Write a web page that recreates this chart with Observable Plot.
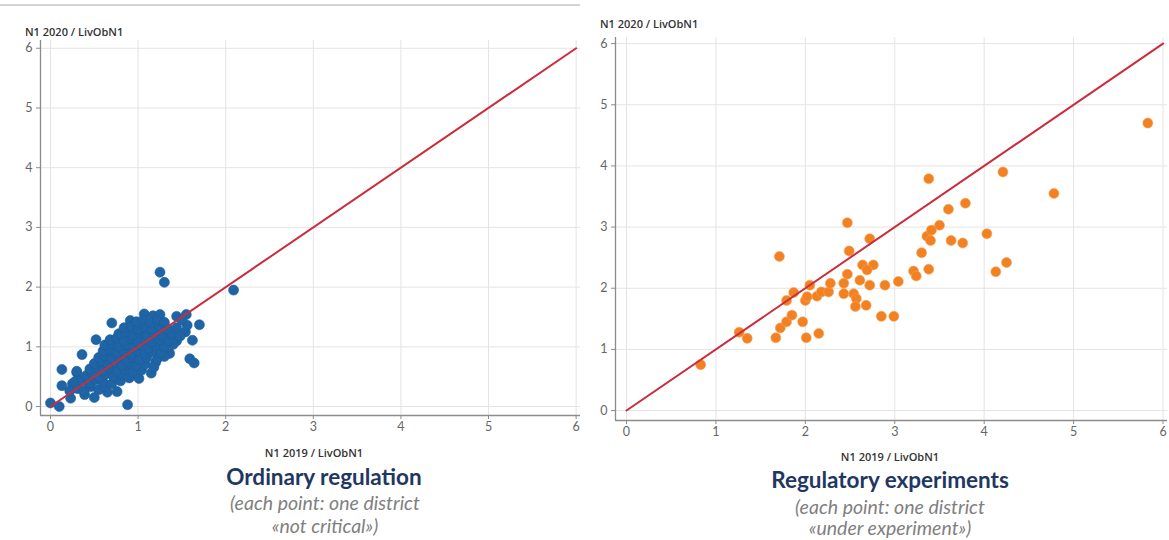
<!DOCTYPE html>
<html>
<head>
<meta charset="utf-8">
<script src="https://cdn.jsdelivr.net/npm/d3@7"></script>
<script src="https://cdn.jsdelivr.net/npm/@observablehq/plot@0.6"></script>
<style>
  html, body { margin: 0; padding: 0; background: #fff; }
  #wrap { position: relative; width: 1169px; height: 540px; overflow: hidden; font-family: Lato, "Open Sans", sans-serif; }
  .panel { position: absolute; top: 0; }
  .ytitle, .xtitle { position: absolute; font-family: "Open Sans", sans-serif; font-size: 11px; font-weight: 600; color: #333; white-space: nowrap; line-height: 14px; }
  .xtitle { transform: translateX(-50%); }
  .title { position: absolute; transform: translateX(-50%); font-family: Lato, sans-serif; font-weight: 700; font-size: 22.5px; color: #1f3763; white-space: nowrap; line-height: 26px; }
  .sub { position: absolute; transform: translateX(-50%); font-family: Lato, sans-serif; font-style: italic; font-size: 19.5px; color: #7f7f7f; white-space: nowrap; line-height: 22px; text-align: center; }
  #topline { position: absolute; left: 0; top: 4px; width: 580px; height: 2px; background: #d4d4d4; }
</style>
</head>
<body>
<div id="wrap">
  <div id="topline"></div>
  <div id="left" class="panel" style="left:0px"></div>
  <div id="right" class="panel" style="left:580px"></div>
</div>
<script>
// ---------- data ----------
const ticks = [0, 1, 2, 3, 4, 5, 6];
const diagonal = [0, 6];

const yTitle = "N1 2020 / LivObN1";
const xTitle = "N1 2019 / LivObN1";
const leftTitle = "Ordinary regulation";
const leftSub = ["(each point: one district", "«not critical»)"];
const rightTitle = "Regulatory experiments";
const rightSub = ["(each point: one district", "«under experiment»)"];

// Ordinary regulation (districts "not critical")
const ordinaryX = [
  0.00,0.10,0.23,0.13,0.13,0.30,0.36,0.52,0.70,0.91,1.25,1.30,2.09,1.70,0.39,0.50,0.65,0.76,0.88,1.62,1.59,1.64,1.54,1.44,1.36,1.20,1.01,1.15,1.07,1.17,1.25,1.44,1.55,1.56,0.25,0.30,
  0.22,0.31,0.38,0.46,0.55,0.62,
  0.28,0.36,0.44,0.52,0.60,0.70,0.80,
  0.41,0.48,0.56,0.63,0.72,0.81,0.90,
  0.45,0.52,0.60,0.68,0.76,0.85,0.94,1.04,
  0.50,0.58,0.66,0.74,0.82,0.90,0.98,1.08,1.18,
  0.55,0.62,0.70,0.78,0.86,0.94,1.02,1.10,1.22,1.30,
  0.60,0.68,0.76,0.84,0.92,1.00,1.08,1.16,1.26,
  0.62,0.70,0.78,0.86,0.95,1.03,1.12,1.20,1.30,1.40,
  0.68,0.76,0.84,0.92,1.00,1.08,1.16,1.25,1.35,
  0.78,0.86,0.94,1.02,1.10,1.18,1.28,1.38,1.48,
  0.84,0.92,1.00,1.08,1.16,1.24,1.34,1.44,
  0.98,1.06,1.14,1.22,1.30,1.50
];
const ordinaryY = [
  0.06,0.00,0.14,0.35,0.62,0.57,0.87,1.12,1.40,1.44,2.25,2.08,1.95,1.37,0.20,0.15,0.24,0.25,0.03,1.11,0.80,0.73,1.25,1.10,0.89,0.74,0.47,0.56,1.55,1.52,1.54,1.51,1.54,1.36,0.38,0.59,
  0.26,0.30,0.27,0.33,0.28,0.34,
  0.42,0.44,0.39,0.45,0.41,0.38,0.43,
  0.52,0.55,0.49,0.54,0.50,0.53,0.48,
  0.63,0.66,0.60,0.64,0.59,0.62,0.58,0.61,
  0.72,0.75,0.70,0.74,0.69,0.73,0.68,0.71,0.66,
  0.82,0.85,0.80,0.84,0.79,0.83,0.78,0.82,0.80,0.84,
  0.93,0.95,0.90,0.94,0.89,0.93,0.88,0.92,0.90,
  1.03,1.05,1.00,1.04,0.99,1.03,0.98,1.02,1.00,1.04,
  1.12,1.15,1.10,1.14,1.09,1.13,1.08,1.12,1.10,
  1.22,1.25,1.20,1.24,1.19,1.23,1.20,1.22,1.18,
  1.32,1.34,1.29,1.33,1.30,1.34,1.30,1.32,
  1.42,1.45,1.40,1.44,1.41,1.45
];

// Regulatory experiments (districts "under experiment")
const experimentX = [
  0.83,1.26,1.35,1.67,1.72,1.79,1.85,1.97,2.01,2.15,1.79,1.87,2.00,2.02,2.05,2.13,2.18,2.26,2.28,2.43,
  2.43,2.54,2.57,2.56,2.68,2.61,2.72,2.85,2.99,2.89,3.04,2.47,2.64,2.76,2.69,2.49,2.72,2.47,1.71,3.21,
  3.24,3.38,3.30,3.36,3.40,3.41,3.50,3.60,3.79,3.63,3.76,4.03,4.13,4.25,3.38,4.21,4.78,5.83
];
const experimentY = [
  0.75,1.28,1.18,1.19,1.35,1.45,1.56,1.45,1.19,1.26,1.80,1.93,1.80,1.86,2.05,1.87,1.94,1.94,2.08,2.08,
  1.91,1.91,1.83,1.70,1.72,2.13,2.05,1.54,1.54,2.05,2.11,2.23,2.38,2.38,2.30,2.61,2.81,3.07,2.52,2.28,
  2.20,2.31,2.58,2.85,2.78,2.95,3.03,3.29,3.39,2.78,2.74,2.89,2.27,2.42,3.79,3.90,3.55,4.70
];

const ordinary = ordinaryX.map((x, i) => ({x, y: ordinaryY[i]}));
const experiment = experimentX.map((x, i) => ({x, y: experimentY[i]}));

// ---------- chart builder ----------
function panel({data, color, stroke, width, height, mL, mR, mT, mB, xDom, yDom}) {
  return Plot.plot({
    width, height,
    marginLeft: mL, marginRight: mR, marginTop: mT, marginBottom: mB,
    x: {domain: xDom, label: null},
    y: {domain: yDom, label: null},
    style: {fontFamily: "Lato, 'Open Sans', sans-serif", fontSize: "12.5px", color: "#666", background: "transparent", overflow: "visible"},
    marks: [
      Plot.gridX(ticks, {stroke: "#e4e4e4", strokeOpacity: 1}),
      Plot.gridY(ticks, {stroke: "#e4e4e4", strokeOpacity: 1}),
      Plot.ruleX([xDom[0]], {stroke: "#8c8c8c", strokeWidth: 1.3}),
      Plot.ruleY([yDom[0]], {stroke: "#8c8c8c", strokeWidth: 1.3}),
      Plot.axisX(ticks, {tickSize: 4, tickPadding: 3, label: null, stroke: "#8c8c8c", fill: "#666", tickFormat: d3.format("d")}),
      Plot.axisY(ticks, {tickSize: 4, tickPadding: 4, label: null, stroke: "#8c8c8c", fill: "#666", tickFormat: d3.format("d")}),
      Plot.dot(data, {x: "x", y: "y", r: 5, fill: color, stroke: stroke, strokeWidth: 0.6}),
      Plot.line(diagonal, {x: d => d, y: d => d, stroke: "#cc2c3c", strokeWidth: 2})
    ]
  });
}

document.getElementById("left").append(panel({
  data: ordinary, color: "#1f65a5", stroke: "#1a5d9c",
  width: 600, height: 440, mL: 40, mR: 20, mT: 40, mB: 25,
  xDom: [-0.114, 6.05], yDom: [-0.15, 6.13]
}));
document.getElementById("right").append(panel({
  data: experiment, color: "#f28122", stroke: "#f6a35a",
  width: 589, height: 445, mL: 35, mR: 2, mT: 37, mB: 25,
  xDom: [-0.123, 6.05], yDom: [-0.163, 6.1]
}));

// ---------- texts ----------
const wrap = document.getElementById("wrap");
function addText(cls, text, left, top) {
  const d = document.createElement("div");
  d.className = cls;
  d.textContent = text;
  d.style.left = left + "px";
  d.style.top = top + "px";
  wrap.append(d);
}
addText("ytitle", yTitle, 25, 25);
addText("ytitle", yTitle, 600, 17);
addText("xtitle", xTitle, 314, 446);
addText("xtitle", xTitle, 890, 450);
addText("title", leftTitle, 324, 464);
addText("title", rightTitle, 890, 467);
addText("sub", leftSub[0], 325, 492);
addText("sub", leftSub[1], 325, 515);
addText("sub", rightSub[0], 890, 496);
addText("sub", rightSub[1], 890, 517);
</script>
</body>
</html>
